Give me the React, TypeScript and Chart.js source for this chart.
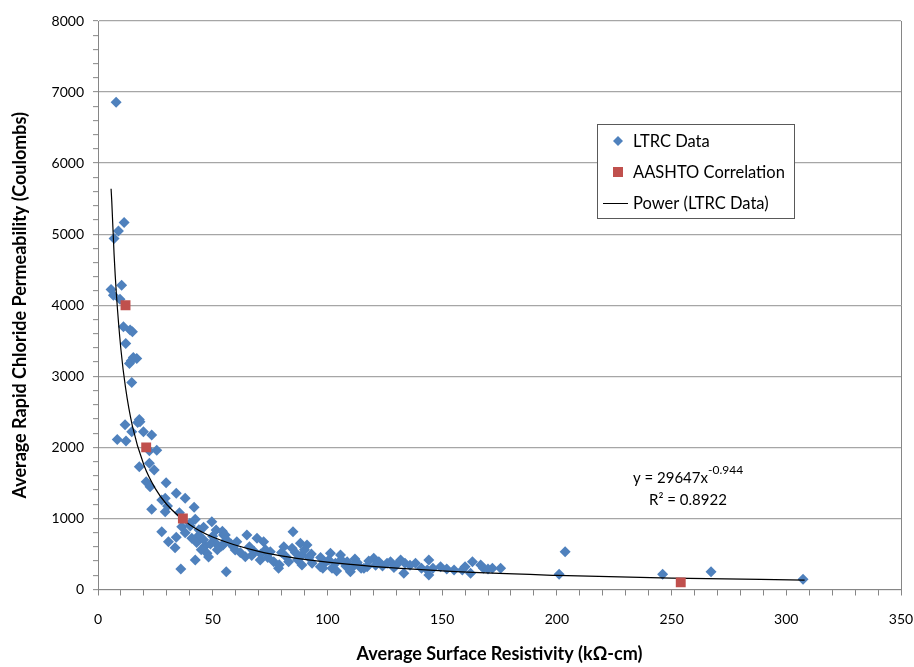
import React, { useEffect, useRef } from "react";
import { Chart, registerables } from "chart.js";

Chart.register(...registerables);

// ---- Data ----
const ltrcX = [
  7.9, 7.0, 8.9, 11.4, 5.7, 10.3, 6.7, 9.6, 11.1, 14.0, 15.0, 12.1, 15.4, 16.9, 13.7, 14.5, 14.7,
  18.0, 11.8, 17.3, 18.3, 14.7, 19.8, 23.4, 8.4, 12.2, 25.6, 22.4, 18.0, 22.4, 24.5, 21.0, 22.7,
  29.7, 34.1, 27.8, 29.3, 38.0, 30.3, 29.3, 35.5, 41.9, 23.4, 42.4, 36.5, 40.2, 27.8, 49.6, 46.0,
  51.5, 34.1, 40.9, 44.0, 54.7, 30.7, 51.1, 46.7, 33.6, 53.8, 47.5, 48.2, 42.4, 60.5, 59.0, 36.1,
  55.9, 54.2, 55.5, 64.9, 69.3, 72.2, 59.8, 64.2, 70.7, 75.1, 76.6, 78.7, 83.1, 85.0, 84.6, 88.2,
  91.1, 88.9, 88.9, 93.3, 96.9, 101.3, 105.7, 100.6, 103.5, 108.6, 110.0, 111.8, 114.7, 117.3, 54.5,
  120.2, 122.4, 127.5, 131.9, 133.8, 133.3, 115.9, 138.4, 144.2, 143.5, 144.2, 149.3, 155.2, 158.8,
  163.2, 162.4, 166.8, 171.9, 175.5, 130.0, 126.0, 203.6, 201.0, 246.1, 267.2, 307.3,
  66, 68, 71, 73, 67, 62, 74, 80, 82, 86, 90, 92, 87, 81, 79, 93,
  97, 99, 102, 106, 108, 112, 113, 110, 104, 98,
  44, 46, 49, 52, 45, 50, 56, 58, 43, 38, 40,
  118, 121, 124, 129, 136, 141, 146, 152, 160, 168, 170
];
const ltrcY = [
  6856, 4940, 5046, 5165, 4222, 4283, 4142, 4086, 3696, 3650, 3626, 3463, 3266, 3252, 3181, 3220, 2914,
  2394, 2318, 2350, 2360, 2220, 2220, 2173, 2112, 2089, 1960, 1952, 1727, 1775, 1681, 1516, 1446,
  1502, 1353, 1259, 1283, 1283, 1174, 1094, 1080, 1156, 1128, 987, 883, 893, 813, 954, 875,
  837, 734, 720, 765, 767, 672, 658, 612, 588, 612, 509, 458, 415, 672, 600, 288,
  251, 820, 767, 767, 720, 672, 556, 461, 415, 532, 391, 298, 391, 813, 579, 650,
  626, 485, 345, 368, 321, 509, 485, 415, 368, 391, 251, 345, 298, 321, 626,
  439, 391, 391, 415, 368, 228, 298, 368, 415, 274, 204, 321, 274, 274,
  391, 228, 345, 298, 298, 345, 368, 532, 214, 214, 251, 143,
  600, 540, 500, 560, 480, 520, 450, 520, 460, 520, 560, 450, 420, 600, 350, 500,
  450, 380, 300, 420, 330, 430, 380, 290, 260, 300,
  840, 700, 640, 560, 560, 750, 700, 640, 660, 800, 930,
  400, 340, 330, 310, 340, 300, 300, 290, 320, 300, 290
];
const aashtoX = [12, 21, 37, 254];
const aashtoY = [4000, 2000, 1000, 100];
// Power trend line
const trendX = [5.7, 6, 7, 8, 10, 12, 15, 20, 25, 30, 40, 50, 70, 100, 150, 200, 250, 308];
const trendY = [5640, 5465, 4723, 4165, 3373, 2840, 2300, 1752, 1420, 1196, 911, 738, 537, 384, 262, 199, 161, 133];

const xMin = 0, xMax = 350, xMinorStep = 10, xMajorStep = 50;
const yMin = 0, yMax = 8000, yMinorStep = 200, yMajorStep = 1000;

const xTitle = "Average Surface Resistivity (kΩ-cm)";
const yTitle = "Average Rapid Chloride Permeability (Coulombs)";
const seriesNames = ["LTRC Data", "AASHTO Correlation", "Power (LTRC Data)"];
const eqMain = "y = 29647x";
const eqExp = "-0.944";
const eqR2 = "R² = 0.8922";

const FONT = "Lato, 'Open Sans', sans-serif";
const BLUE = "#4F81BD";
const RED = "#C0504D";
const GRID = "#A6A6A6";
const AXIS = "#868686";

const overlayPlugin = {
  id: "overlay",
  afterDraw(chart: any) {
    const ctx = chart.ctx as CanvasRenderingContext2D;
    const ca = chart.chartArea;
    ctx.save();
    // right frame line of plot area
    ctx.strokeStyle = AXIS;
    ctx.lineWidth = 1;
    ctx.beginPath();
    ctx.moveTo(Math.round(ca.right) + 0.5, ca.top);
    ctx.lineTo(Math.round(ca.right) + 0.5, ca.bottom);
    ctx.stroke();

    // legend box
    const lx = 597, ly = 124, lw = 197, lh = 94;
    ctx.fillStyle = "#ffffff";
    ctx.fillRect(lx, ly, lw, lh);
    ctx.strokeStyle = "#595959";
    ctx.lineWidth = 1;
    ctx.strokeRect(lx + 0.5, ly + 0.5, lw, lh);

    ctx.font = `16.5px ${FONT}`;
    ctx.fillStyle = "#000";
    ctx.textBaseline = "middle";
    ctx.textAlign = "left";
    const rows = [141, 172, 203];
    // diamond
    ctx.fillStyle = BLUE;
    ctx.beginPath();
    ctx.moveTo(618 - 5, rows[0]);
    ctx.lineTo(618, rows[0] - 5);
    ctx.lineTo(618 + 5, rows[0]);
    ctx.lineTo(618, rows[0] + 5);
    ctx.closePath();
    ctx.fill();
    // square
    ctx.fillStyle = RED;
    ctx.fillRect(613, rows[1] - 5, 10, 10);
    // line
    ctx.strokeStyle = "#000";
    ctx.lineWidth = 1;
    ctx.beginPath();
    ctx.moveTo(603, rows[2] + 0.5);
    ctx.lineTo(628, rows[2] + 0.5);
    ctx.stroke();
    ctx.fillStyle = "#000";
    seriesNames.forEach((n, i) => ctx.fillText(n, 633, rows[i] + 1));

    // equation
    const cx = 688;
    ctx.font = `15px ${FONT}`;
    const wMain = ctx.measureText(eqMain).width;
    ctx.font = `12px ${FONT}`;
    const wExp = ctx.measureText(eqExp).width;
    const start = cx - (wMain + wExp) / 2;
    ctx.font = `15px ${FONT}`;
    ctx.fillText(eqMain, start, 478);
    ctx.font = `12px ${FONT}`;
    ctx.fillText(eqExp, start + wMain, 470);
    ctx.font = `15px ${FONT}`;
    ctx.textAlign = "center";
    ctx.fillText(eqR2, cx, 500);
    ctx.restore();
  },
};

export default function App() {
  const ref = useRef<HTMLCanvasElement | null>(null);

  useEffect(() => {
    if (!ref.current) return;
    const ltrc = ltrcX.map((x, i) => ({ x, y: ltrcY[i] }));
    const aashto = aashtoX.map((x, i) => ({ x, y: aashtoY[i] }));
    const trend = trendX.map((x, i) => ({ x, y: trendY[i] }));

    const chart = new Chart(ref.current, {
      type: "scatter",
      data: {
        datasets: [
          {
            label: seriesNames[0],
            data: ltrc,
            pointStyle: "rectRot",
            pointRadius: 5.5,
            backgroundColor: BLUE,
            borderColor: BLUE,
            borderWidth: 0,
            order: 2,
          },
          {
            label: seriesNames[1],
            data: aashto,
            pointStyle: "rect",
            pointRadius: 7,
            backgroundColor: RED,
            borderColor: RED,
            borderWidth: 0,
            order: 0,
          },
          {
            type: "line",
            label: seriesNames[2],
            data: trend,
            borderColor: "#000",
            borderWidth: 1.2,
            pointRadius: 0,
            fill: false,
            cubicInterpolationMode: "monotone",
            order: 1,
          } as any,
        ],
      },
      options: {
        animation: false,
        responsive: false,
        maintainAspectRatio: false,
        layout: { padding: { top: 21, right: 13, left: 0, bottom: 0 } },
        plugins: { legend: { display: false }, tooltip: { enabled: false } },
        scales: {
          x: {
            type: "linear",
            min: xMin,
            max: xMax,
            ticks: {
              stepSize: xMinorStep,
              autoSkip: false,
              maxRotation: 0,
              padding: 16,
              color: "#000",
              font: { family: FONT, size: 14 },
              callback: (v: any) => (Number(v) % xMajorStep === 0 ? String(v) : ""),
            },
            grid: {
              drawOnChartArea: false,
              drawTicks: true,
              tickLength: 6,
              tickColor: AXIS,
            },
            border: { color: AXIS, width: 1 },
            title: {
              display: true,
              text: xTitle,
              color: "#000",
              font: { family: FONT, size: 18, weight: "bold" },
              padding: { top: 0, bottom: 2 },
            },
            afterFit: (s: any) => {
              s.height = 77.5;
              s.paddingLeft = 0;
              s.paddingRight = 0;
            },
          },
          y: {
            type: "linear",
            min: yMin,
            max: yMax,
            ticks: {
              stepSize: yMinorStep,
              autoSkip: false,
              padding: 9,
              color: "#000",
              font: { family: FONT, size: 14 },
              callback: (v: any) => (Number(v) % yMajorStep === 0 ? String(v) : ""),
            },
            grid: {
              color: (c: any) =>
                c.tick && c.tick.value % yMajorStep === 0 ? GRID : "rgba(0,0,0,0)",
              lineWidth: 1.3,
              drawTicks: true,
              tickLength: 5,
              tickColor: AXIS,
              tickWidth: 1,
            },
            border: { color: AXIS, width: 1 },
            title: {
              display: true,
              text: yTitle,
              color: "#000",
              font: { family: FONT, size: 18, weight: "bold" },
              padding: { top: 9, bottom: 0 },
            },
            afterFit: (s: any) => {
              s.width = 98;
              s.paddingTop = 0;
              s.paddingBottom = 0;
            },
          },
        },
      },
      plugins: [overlayPlugin],
    });
    return () => chart.destroy();
  }, []);

  return (
    <div style={{ position: "absolute", left: 0, top: 0, width: 914, height: 667, background: "#fff" }}>
      <canvas ref={ref} width={914} height={667} />
    </div>
  );
}
